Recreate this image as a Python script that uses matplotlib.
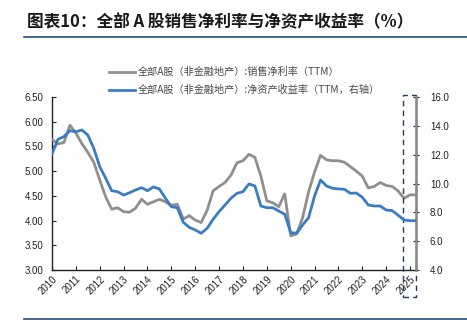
import matplotlib
matplotlib.use("Agg")
import matplotlib.pyplot as plt
from matplotlib.patches import Rectangle
from matplotlib.lines import Line2D
import numpy as np

plt.rcParams['font.family'] = ['Liberation Sans', 'Noto Sans CJK SC', 'DejaVu Sans']

years = [str(y) for y in range(2010, 2026)]
# quarterly data 2010Q1 .. 2025Q2
net_margin = [5.64, 5.55, 5.58, 5.93, 5.77, 5.56, 5.38, 5.18, 4.82, 4.48,
              4.23, 4.26, 4.18, 4.17, 4.25, 4.43, 4.33, 4.38, 4.43, 4.38,
              4.31, 4.33, 4.03, 4.10, 4.01, 3.96, 4.21, 4.60, 4.69, 4.77,
              4.92, 5.17, 5.21, 5.34, 5.28, 4.90, 4.40, 4.36, 4.28, 4.54,
              3.69, 3.73, 4.06, 4.58, 4.98, 5.32, 5.23, 5.21, 5.21, 5.18,
              5.09, 5.00, 4.90, 4.66, 4.69, 4.77, 4.71, 4.69, 4.60, 4.45,
              4.52, 4.52]
roe = [12.05, 13.07, 13.25, 13.66, 13.59, 13.71, 13.36, 12.44, 11.17, 10.36,
       9.50, 9.43, 9.20, 9.36, 9.55, 9.71, 9.50, 9.76, 9.62, 8.98,
       8.39, 8.32, 7.31, 6.96, 6.78, 6.55, 6.89, 7.52, 8.05, 8.51,
       8.98, 9.32, 9.43, 9.97, 9.83, 8.44, 8.32, 8.32, 8.09, 7.87,
       6.59, 6.55, 7.12, 7.63, 9.13, 10.24, 9.83, 9.67, 9.62, 9.60,
       9.32, 9.34, 9.05, 8.51, 8.44, 8.44, 8.16, 8.12, 7.80, 7.47,
       7.42, 7.42]
label_margin = '全部A股（非金融地产）:销售净利率（TTM）'
label_roe = '全部A股（非金融地产）:净资产收益率（TTM，右轴）'
title = '图表10：全部 A 股销售净利率与净资产收益率（%）'

x = np.arange(len(net_margin))

fig = plt.figure(figsize=(4.67, 3.30), dpi=100)
ax = fig.add_axes([52/467, 1-270/330, 364/467, 173/330])
ax2 = ax.twinx()

gray = '#8f8f8f'
blue = '#3a7cc4'
l1, = ax.plot(x, net_margin, color=gray, lw=2.0, label=label_margin, zorder=3)
l2, = ax2.plot(x, roe, color=blue, lw=2.0, label=label_roe, zorder=3)

ax.set_xlim(0, len(net_margin) - 1)
ax.set_ylim(3.0, 6.5)
ax.set_yticks(np.arange(3.0, 6.51, 0.5))
ax.set_yticklabels([f'{v:.2f}' for v in np.arange(3.0, 6.51, 0.5)])
ax2.set_ylim(4, 16)
ax2.set_yticks(np.arange(4, 16.1, 2))
ax2.set_yticklabels([f'{v:.1f}' for v in np.arange(4, 16.1, 2)])

ax.set_xticks(np.arange(0, 4*len(years), 4))
ax.set_xticklabels(years, rotation=45, ha='right', va='top', rotation_mode='anchor')

for a in (ax, ax2):
    a.spines['top'].set_visible(False)
ax.spines['left'].set_color('#222222')
ax.spines['bottom'].set_color('#222222')
ax.spines['left'].set_linewidth(1.0)
ax.spines['bottom'].set_linewidth(1.0)
ax2.spines['right'].set_color('#8a8a8a')
ax2.spines['right'].set_linewidth(1.8)
ax2.spines['left'].set_visible(False)
ax2.spines['bottom'].set_visible(False)

ax.tick_params(axis='y', direction='in', length=3, labelsize=7, colors='#222222', pad=6)
ax.tick_params(axis='x', direction='in', length=3, labelsize=7, colors='#222222', pad=3)
ax2.tick_params(axis='y', direction='inout', length=4, labelsize=7, colors='#222222', pad=8)

# dashed highlight box around latest data
rect = Rectangle((58.9, -27/173), 2.1, 1 + 29/173, transform=ax.get_xaxis_transform(),
                 fill=False, ls=(0, (4, 3)), lw=1.0, edgecolor='#1f3864',
                 clip_on=False, zorder=5)
ax.add_patch(rect)

leg = ax.legend(handles=[l1, l2], loc='upper left', bbox_to_anchor=(100/467, 1-58/330),
                bbox_transform=fig.transFigure, frameon=False,
                handlelength=2.6, handletextpad=0.2, labelspacing=0.75,
                prop={'family': ['Noto Sans CJK SC', 'DejaVu Sans'], 'size': 7.3})
for t in leg.get_texts():
    t.set_color('#4a4a4a')

fig.text(27/467, 1-22/330, title, fontsize=12, fontweight='bold', color='#1a1a1a',
         va='center', ha='left', family=['Noto Sans CJK SC', 'DejaVu Sans'])
fig.add_artist(Line2D([24/467, 1], [1-37/330, 1-37/330], transform=fig.transFigure,
                      color='#1f4e79', lw=1.2))
fig.add_artist(Line2D([24/467, 1], [1-319/330, 1-319/330], transform=fig.transFigure,
                      color='#1f4e79', lw=1.2))

fig.savefig('out.png', dpi=100)
